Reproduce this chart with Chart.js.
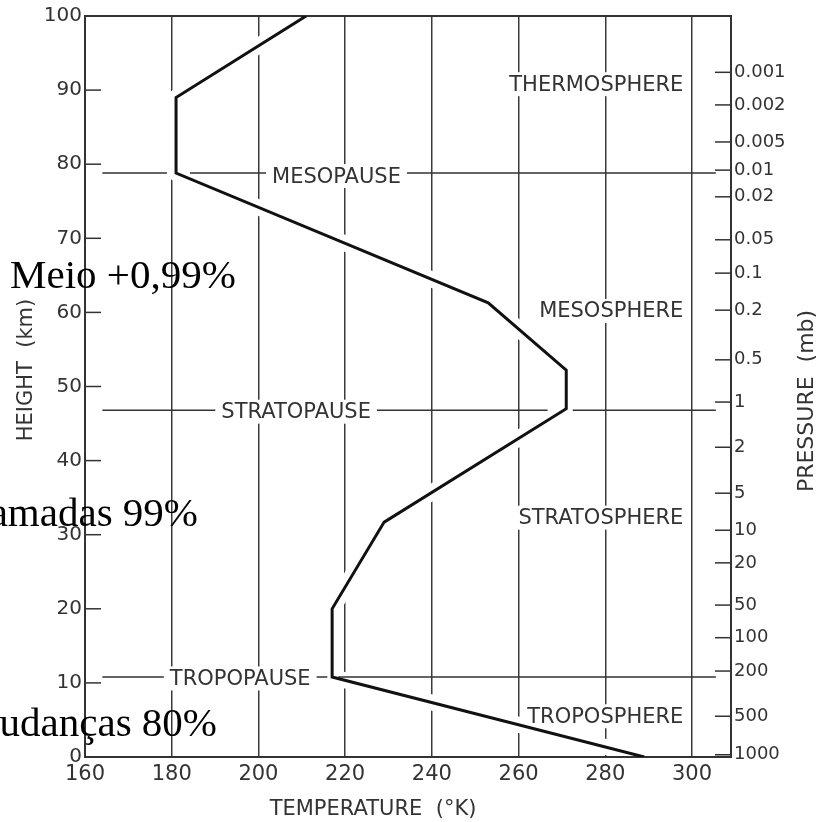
<!DOCTYPE html>
<html>
<head>
<meta charset="utf-8">
<script src="https://cdn.jsdelivr.net/npm/chart.js@4.4.0/dist/chart.umd.min.js"></script>
<style>
  html, body { margin: 0; padding: 0; background: #fff; overflow: hidden; }
  #wrap { width: 819px; height: 822px; position: relative; }
</style>
</head>
<body>
<div id="wrap"><canvas id="profileChart"></canvas></div>
<script>
// temperature profile (K) against height (km)
const temperatures = [289, 217, 217, 229, 271, 271, 253, 181, 181, 211];
const heights = [0, 10.8, 20, 31.7, 47, 52.2, 61.3, 78.8, 89, 100];

const tempTicks = [160, 180, 200, 220, 240, 260, 280, 300];
const heightTicks = [0, 10, 20, 30, 40, 50, 60, 70, 80, 90, 100];

// pressure (mb) marks on the right edge and the height each one sits at
const pressureLabels = ['0.001', '0.002', '0.005', '0.01', '0.02', '0.05', '0.1', '0.2', '0.5', '1',
  '2', '5', '10', '20', '50', '100', '200', '500', '1000'];
const pressureHeights = [92.4, 88.0, 83.0, 79.2, 75.6, 69.8, 65.3, 60.3, 53.6, 47.9,
  41.8, 35.6, 30.6, 26.2, 20.5, 16.1, 11.6, 5.5, 0.3];

// the three "pause" lines: height and the temperature spans they are drawn over
const pauseNames = ['MESOPAUSE', 'STRATOPAUSE', 'TROPOPAUSE'];
const pauseHeights = [78.8, 46.8, 10.8];
const pauseSpans = [
  [[164, 178.9], [184.2, 305.5]],
  [[164, 266.7], [272.5, 305.5]],
  [[164, 215.9], [218.4, 305.5]]
];

const layerNames = ['THERMOSPHERE', 'MESOSPHERE', 'STRATOSPHERE', 'TROPOSPHERE'];
const overlayTexts = ['Meio +0,99%', 'Camadas 99%', 'Mudanças 80%'];

const ink = '#333';
const sans = '"DejaVu Sans", sans-serif';

// where the labels sit, in chart units
const pauseLabelAt = [[218, 78.4], [208.7, 46.6], [195.8, 10.6]];
const layerLabelAt = [[298, 90.8], [298, 60.2], [298, 32.3], [298, 5.5]];

const profile = temperatures.map((t, i) => ({ x: t, y: heights[i] }));

const pauseSets = pauseHeights.map((h, i) => {
  const pts = [];
  pauseSpans[i].forEach((s, j) => {
    if (j) pts.push({ x: s[0] - 0.1, y: null });
    pts.push({ x: s[0], y: h }, { x: s[1], y: h });
  });
  return {
    label: pauseNames[i],
    data: pts,
    borderColor: ink,
    borderWidth: 1.5,
    pointRadius: 0,
    spanGaps: false,
    order: 2
  };
});

function labelBox(ctx, text, x, y, align) {
  const w = ctx.measureText(text).width;
  const left = align === 'right' ? x - w : x - w / 2;
  ctx.fillStyle = '#fff';
  ctx.fillRect(left - 6, y - 12, w + 12, 24);
  ctx.fillStyle = ink;
  ctx.textAlign = align;
  ctx.textBaseline = 'middle';
  ctx.fillText(text, x, y + 1);
}

const drafting = {
  id: 'drafting',
  beforeDatasetsDraw(chart) {
    const { ctx, chartArea: a } = chart;
    const pts = chart.getDatasetMeta(0).data;
    // white edge round the curve, so grid lines break where it crosses them
    ctx.save();
    ctx.beginPath();
    ctx.rect(a.left + 2, a.top + 2, a.right - a.left - 4, a.bottom - a.top - 4);
    ctx.clip();
    ctx.beginPath();
    pts.forEach((p, i) => (i ? ctx.lineTo(p.x, p.y) : ctx.moveTo(p.x, p.y)));
    ctx.strokeStyle = '#fff';
    ctx.lineWidth = 16;
    ctx.lineJoin = 'round';
    ctx.stroke();
    ctx.restore();

    ctx.save();
    ctx.strokeStyle = ink;
    ctx.lineWidth = 2;
    ctx.strokeRect(a.left, a.top, a.right - a.left, a.bottom - a.top);
    ctx.restore();
  },
  beforeDatasetDraw(chart, args) {
    if (args.index !== 0) return;
    const { ctx, scales: { x, y } } = chart;
    ctx.save();
    ctx.font = '21px ' + sans;
    pauseNames.forEach((n, i) => {
      labelBox(ctx, n, x.getPixelForValue(pauseLabelAt[i][0]), y.getPixelForValue(pauseLabelAt[i][1]), 'center');
    });
    layerNames.forEach((n, i) => {
      labelBox(ctx, n, x.getPixelForValue(layerLabelAt[i][0]), y.getPixelForValue(layerLabelAt[i][1]), 'right');
    });
    ctx.restore();
  },
  afterDraw(chart) {
    const { ctx, chartArea: a, scales: { y, y2 } } = chart;
    ctx.save();
    ctx.strokeStyle = ink;
    ctx.lineWidth = 1.5;
    heightTicks.forEach(v => {
      const py = y.getPixelForValue(v);
      ctx.beginPath();
      ctx.moveTo(a.left, py);
      ctx.lineTo(a.left + 16, py);
      ctx.stroke();
    });
    pressureHeights.forEach(v => {
      const py = y2.getPixelForValue(v);
      ctx.beginPath();
      ctx.moveTo(a.right - 16, py);
      ctx.lineTo(a.right, py);
      ctx.stroke();
    });

    // axis titles
    ctx.fillStyle = ink;
    ctx.font = '21px ' + sans;
    ctx.textAlign = 'center';
    ctx.textBaseline = 'middle';
    ctx.fillText('TEMPERATURE  (°K)', 373, 810);
    ctx.save();
    ctx.translate(27, 370);
    ctx.rotate(-Math.PI / 2);
    ctx.fillText('HEIGHT  (km)', 0, 0);
    ctx.restore();
    ctx.save();
    ctx.translate(807, 401);
    ctx.rotate(-Math.PI / 2);
    ctx.font = '22px ' + sans;
    ctx.fillText('PRESSURE  (mb)', 0, 0);
    ctx.restore();

    // slide text laid over the figure
    ctx.fillStyle = '#000';
    ctx.font = '41px "Liberation Serif", "Times New Roman", serif';
    ctx.textBaseline = 'alphabetic';
    ctx.textAlign = 'left';
    ctx.fillText(overlayTexts[0], 10, 288);
    ctx.textAlign = 'right';
    ctx.fillText(overlayTexts[1], 198, 526);
    ctx.fillText(overlayTexts[2], 217, 736);
    ctx.restore();
  }
};

const ctx = document.getElementById('profileChart').getContext('2d');
const profileChart = new Chart(ctx, {
  type: 'line',
  data: {
    datasets: [{
      label: 'Temperature',
      data: profile,
      borderColor: '#111',
      borderWidth: 3,
      pointRadius: 0,
      tension: 0,
      fill: false,
      order: 1
    }, ...pauseSets]
  },
  options: {
    responsive: true,
    maintainAspectRatio: false,
    animation: false,
    layout: { padding: { top: 16, left: 0, right: 0, bottom: 0 } },
    scales: {
      x: {
        type: 'linear',
        position: 'bottom',
        min: 160,
        max: 309,
        afterBuildTicks: s => { s.ticks = tempTicks.map(v => ({ value: v })); },
        afterFit: s => { s.height = 65; },
        ticks: { color: ink, font: { family: sans, size: 21 }, padding: 5, maxRotation: 0 },
        grid: { color: '#3a3a3a', lineWidth: 1.5, drawTicks: false },
        border: { display: false }
      },
      y: {
        type: 'linear',
        position: 'left',
        min: 0,
        max: 100,
        afterBuildTicks: s => { s.ticks = heightTicks.map(v => ({ value: v })); },
        afterFit: s => { s.width = 85; },
        ticks: { color: ink, font: { family: sans, size: 20 }, padding: 3 },
        grid: { drawOnChartArea: false, drawTicks: false },
        border: { display: false }
      },
      y2: {
        type: 'linear',
        position: 'right',
        min: 0,
        max: 100,
        afterBuildTicks: s => { s.ticks = pressureHeights.map(v => ({ value: v })); },
        afterFit: s => { s.width = 88; },
        ticks: {
          color: ink,
          font: { family: sans, size: 18 },
          padding: 3,
          autoSkip: false,
          callback: (v, i) => pressureLabels[i]
        },
        grid: { drawOnChartArea: false, drawTicks: false },
        border: { display: false }
      }
    },
    plugins: {
      legend: { display: false },
      tooltip: { enabled: false }
    }
  },
  plugins: [drafting]
});
</script>
</body>
</html>
